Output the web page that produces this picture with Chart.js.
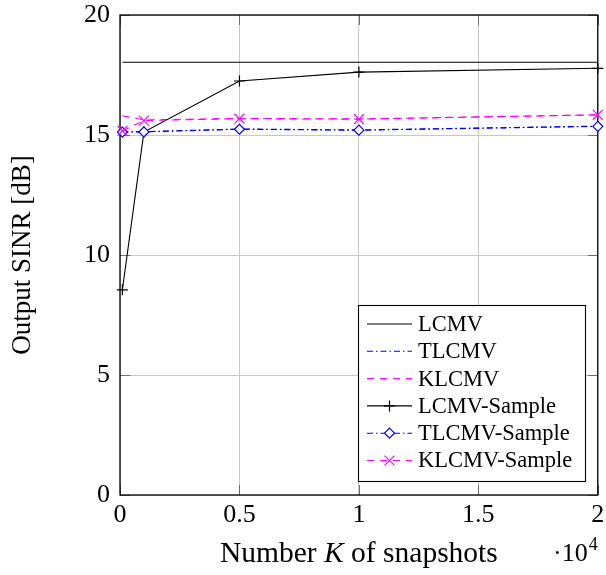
<!DOCTYPE html>
<html>
<head>
<meta charset="utf-8">
<script src="https://cdn.jsdelivr.net/npm/chart.js@4/dist/chart.umd.min.js"></script>
<style>
  html, body { margin: 0; padding: 0; background: #fff; }
  canvas { display: block; }
</style>
</head>
<body>
<canvas id="c" width="606" height="575"></canvas>
<script>
// ---- data ----
const snapshotsK = [100, 1000, 5000, 10000, 20000];
const lcmv         = [18.03, 18.03, 18.03, 18.03, 18.03];
const tlcmv        = [15.13, 15.14, 15.25, 15.21, 15.37];
const klcmv        = [15.80, 15.63, 15.69, 15.67, 15.84];
const lcmvSample   = [8.55, 15.12, 17.25, 17.62, 17.78];
const tlcmvSample  = [15.12, 15.13, 15.24, 15.20, 15.36];
const klcmvSample  = [15.17, 15.60, 15.68, 15.66, 15.84];
const seriesLabels = ['LCMV', 'TLCMV', 'KLCMV', 'LCMV-Sample', 'TLCMV-Sample', 'KLCMV-Sample'];
const xTickValues  = [0, 5000, 10000, 15000, 20000];
const yTickValues  = [0, 5, 10, 15, 20];
const xTitleParts  = ['Number ', 'K', ' of snapshots'];
const yTitle       = 'Output SINR [dB]';
const xExponent    = ['\u00b710', '4'];

const FONT = '"Liberation Serif", "Times New Roman", serif';
const BLUE = '#0000ff', MAGENTA = '#ff00ff', BLACK = '#000000';

function pts(arr) { return snapshotsK.map((k, i) => ({ x: k, y: arr[i] })); }

const styles = [
  { color: BLACK,   dash: [],            marker: false, order: 6 },
  { color: BLUE,    dash: [6, 3, 1.5, 3], marker: false, order: 5 },
  { color: MAGENTA, dash: [7, 6],        marker: false, order: 4 },
  { color: BLACK,   dash: [],            marker: 'cross',    radius: 5.5, order: 3 },
  { color: BLUE,    dash: [6, 3, 1.5, 3], marker: 'rectRot',  radius: 5,   order: 2 },
  { color: MAGENTA, dash: [7, 6],        marker: 'crossRot', radius: 7,   order: 1 },
];
const seriesValues = [lcmv, tlcmv, klcmv, lcmvSample, tlcmvSample, klcmvSample];

const datasets = seriesValues.map((vals, i) => {
  const s = styles[i];
  return {
    label: seriesLabels[i],
    data: pts(vals),
    borderColor: s.color,
    borderWidth: 1.1,
    borderDash: s.dash,
    pointStyle: s.marker || 'circle',
    pointRadius: s.marker ? s.radius : 0,
    pointHoverRadius: s.marker ? s.radius : 0,
    pointBorderColor: s.color,
    pointBackgroundColor: '#ffffff',
    pointBorderWidth: 1.2,
    tension: 0,
    fill: false,
    clip: false,
    order: s.order,
  };
});

const framePlugin = {
  id: 'frame',
  beforeDatasetsDraw(chart) {
    const { ctx, chartArea: a, scales } = chart;
    ctx.save();
    // inward tick marks
    ctx.strokeStyle = '#6e6e6e';
    ctx.lineWidth = 1;
    const tl = 10;
    xTickValues.forEach(v => {
      const x = Math.round(scales.x.getPixelForValue(v)) + 0.5;
      ctx.beginPath();
      ctx.moveTo(x, a.bottom); ctx.lineTo(x, a.bottom - tl);
      ctx.moveTo(x, a.top); ctx.lineTo(x, a.top + tl);
      ctx.stroke();
    });
    yTickValues.forEach(v => {
      const y = Math.round(scales.y.getPixelForValue(v)) + 0.5;
      ctx.beginPath();
      ctx.moveTo(a.left, y); ctx.lineTo(a.left + tl, y);
      ctx.moveTo(a.right, y); ctx.lineTo(a.right - tl, y);
      ctx.stroke();
    });
    // axis box
    ctx.strokeStyle = '#000';
    ctx.lineWidth = 1.3;
    ctx.strokeRect(a.left, a.top, a.right - a.left, a.bottom - a.top);
    ctx.restore();
  },
  afterDraw(chart) {
    const { ctx, chartArea: a } = chart;
    ctx.save();
    // x title with italic K
    const f = 29.5;
    ctx.fillStyle = '#000';
    ctx.textBaseline = 'alphabetic';
    const fonts = [`${f}px ${FONT}`, `italic ${f}px ${FONT}`, `${f}px ${FONT}`];
    let widths = xTitleParts.map((t, i) => { ctx.font = fonts[i]; return ctx.measureText(t).width; });
    const total = widths.reduce((p, c) => p + c, 0);
    let x = (a.left + a.right) / 2 - total / 2;
    const baseY = 562;
    xTitleParts.forEach((t, i) => { ctx.font = fonts[i]; ctx.textAlign = 'left'; ctx.fillText(t, x, baseY); x += widths[i]; });
    // exponent label
    ctx.font = `26px ${FONT}`;
    ctx.textAlign = 'left';
    const ex = 553;
    ctx.fillText(xExponent[0], ex, baseY - 1);
    const w0 = ctx.measureText(xExponent[0]).width;
    ctx.font = `18px ${FONT}`;
    ctx.fillText(xExponent[1], ex + w0 + 1, baseY - 12);

    // legend
    const lx = 358, ly = 305, lw = 227, lh = 176;
    ctx.fillStyle = '#fff';
    ctx.fillRect(lx, ly, lw, lh);
    ctx.strokeStyle = '#000';
    ctx.lineWidth = 1.1;
    ctx.setLineDash([]);
    ctx.strokeRect(lx + 0.5, ly + 0.5, lw, lh);
    const rowH = 27.3;
    chart.data.datasets.forEach((ds, i) => {
      const cy = ly + 19 + i * rowH;
      ctx.save();
      ctx.strokeStyle = ds.borderColor;
      ctx.lineWidth = ds.borderWidth;
      ctx.setLineDash(ds.borderDash);
      ctx.beginPath();
      ctx.moveTo(367, cy); ctx.lineTo(412, cy);
      ctx.stroke();
      ctx.setLineDash([]);
      if (ds.pointRadius > 0) {
        ctx.strokeStyle = ds.pointBorderColor;
        ctx.fillStyle = ds.pointBackgroundColor;
        ctx.lineWidth = ds.pointBorderWidth;
        Chart.helpers.drawPoint(ctx, { pointStyle: ds.pointStyle, radius: ds.pointRadius, rotation: 0, borderWidth: ds.pointBorderWidth }, 389.5, cy);
      }
      ctx.restore();
      ctx.fillStyle = '#000';
      ctx.font = `22.5px ${FONT}`;
      ctx.textAlign = 'left';
      ctx.textBaseline = 'middle';
      ctx.fillText(ds.label, 418, cy + 1);
    });
    ctx.restore();
  }
};

new Chart(document.getElementById('c'), {
  type: 'line',
  data: { datasets },
  options: {
    responsive: false,
    devicePixelRatio: 1,
    animation: false,
    events: [],
    layout: { padding: { top: 15, right: 6, left: 0, bottom: 0 } },
    plugins: { legend: { display: false }, tooltip: { enabled: false } },
    scales: {
      x: {
        type: 'linear', min: 0, max: 20000,
        afterBuildTicks: s => { s.ticks = xTickValues.map(v => ({ value: v })); },
        ticks: {
          callback: v => String(v / 10000),
          font: { family: FONT, size: 26 }, color: '#000',
          padding: 5, maxRotation: 0, autoSkip: false,
        },
        grid: { color: '#c8c8c8', lineWidth: 1, drawTicks: false },
        border: { display: false },
        afterFit: s => { s.height = 80; s.paddingLeft = 0; s.paddingRight = 0; },
      },
      y: {
        type: 'linear', min: 0, max: 20,
        afterBuildTicks: s => { s.ticks = yTickValues.map(v => ({ value: v })); },
        ticks: {
          font: { family: FONT, size: 26 }, color: '#000',
          padding: 10, autoSkip: false,
        },
        grid: { color: '#c8c8c8', lineWidth: 1, drawTicks: false },
        border: { display: false },
        title: { display: true, text: yTitle, font: { family: FONT, size: 27 }, color: '#000', padding: { top: 7, bottom: 0 } },
        afterFit: s => { s.width = 120; s.paddingTop = 0; s.paddingBottom = 0; },
      }
    }
  },
  plugins: [framePlugin]
});
</script>
</body>
</html>
